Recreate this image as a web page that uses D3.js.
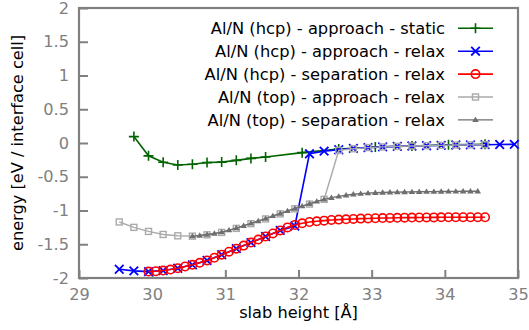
<!DOCTYPE html>
<html><head><meta charset="utf-8">
<script src="https://cdn.jsdelivr.net/npm/d3@7"></script>
<style>body{margin:0;background:#fff}svg{display:block}text{font-family:"DejaVu Sans",sans-serif}</style>
</head><body><svg id="c" width="529" height="330"></svg>
<script>
const xTicks = [29,30,31,32,33,34,35];
const yTicks = [-2,-1.5,-1,-0.5,0,0.5,1,1.5,2];
const yTickLabels = ["-2","-1.5","-1","-0.5","0","0.5","1","1.5","2"];

const greenX = [29.75,29.95,30.15,30.35,30.55,30.75,30.95,31.15,31.35,31.55,32.05,32.55,33.05,33.55,34.05,34.55];
const greenY = [0.095,-0.19,-0.286,-0.325,-0.315,-0.29,-0.283,-0.257,-0.228,-0.207,-0.143,-0.09,-0.06,-0.045,-0.027,-0.02];

const blueX = [29.55,29.75,29.95,30.15,30.35,30.55,30.75,30.95,31.15,31.35,31.55,31.75,31.95,32.15,32.35,32.55,32.75,32.95,33.15,33.35,33.55,33.75,33.95,34.15,34.35,34.55,34.75,34.95];
const blueY = [-1.87,-1.895,-1.905,-1.89,-1.855,-1.805,-1.74,-1.655,-1.565,-1.475,-1.385,-1.295,-1.23,-0.16,-0.12,-0.10,-0.08,-0.068,-0.058,-0.05,-0.044,-0.04,-0.035,-0.03,-0.028,-0.025,-0.022,-0.02];

const redX = [29.95,30.05,30.15,30.25,30.35,30.45,30.55,30.65,30.75,30.85,30.95,31.05,31.15,31.25,31.35,31.45,31.55,31.65,31.75,31.85,31.95,32.05,32.15,32.25,32.35,32.45,32.55,32.65,32.75,32.85,32.95,33.05,33.15,33.25,33.35,33.45,33.55,33.65,33.75,33.85,33.95,34.05,34.15,34.25,34.35,34.45,34.55];
const redY = [-1.905,-1.9,-1.89,-1.875,-1.855,-1.83,-1.805,-1.775,-1.74,-1.70,-1.655,-1.61,-1.565,-1.52,-1.475,-1.43,-1.385,-1.34,-1.295,-1.25,-1.215,-1.19,-1.17,-1.16,-1.15,-1.14,-1.135,-1.13,-1.125,-1.12,-1.118,-1.115,-1.112,-1.11,-1.108,-1.106,-1.105,-1.104,-1.103,-1.102,-1.101,-1.10,-1.10,-1.10,-1.10,-1.10,-1.10];

const topApprX = [29.55,29.75,29.95,30.15,30.35,30.55,30.75,30.95,31.15,31.35,31.55,31.75,31.95,32.15,32.35,32.55,32.75,32.95,33.15,33.35,33.55,33.75,33.95,34.15,34.35,34.55];
const topApprY = [-1.17,-1.25,-1.31,-1.355,-1.375,-1.38,-1.36,-1.325,-1.265,-1.195,-1.125,-1.05,-0.975,-0.905,-0.835,-0.11,-0.085,-0.068,-0.058,-0.05,-0.044,-0.04,-0.035,-0.03,-0.028,-0.025];

const topSepX = [30.55,30.65,30.75,30.85,30.95,31.05,31.15,31.25,31.35,31.45,31.55,31.65,31.75,31.85,31.95,32.05,32.15,32.25,32.35,32.45,32.55,32.65,32.75,32.85,32.95,33.05,33.15,33.25,33.35,33.45,33.55,33.65,33.75,33.85,33.95,34.05,34.15,34.25,34.35,34.45];
const topSepY = [-1.38,-1.37,-1.355,-1.34,-1.32,-1.29,-1.26,-1.225,-1.19,-1.155,-1.12,-1.08,-1.045,-1.005,-0.97,-0.935,-0.90,-0.865,-0.835,-0.81,-0.79,-0.775,-0.76,-0.75,-0.742,-0.737,-0.733,-0.73,-0.728,-0.726,-0.724,-0.722,-0.72,-0.72,-0.718,-0.717,-0.716,-0.715,-0.715,-0.715];

const seriesNames = ["Al/N (hcp) - approach - static","Al/N (hcp) - approach - relax","Al/N (hcp) - separation - relax","Al/N (top) - approach - relax","Al/N (top) - separation - relax"];

const svg = d3.select("#c");
const L=79,R=518,T=8,B=278;
const x = d3.scaleLinear().domain([29,35]).range([L,R]);
const y = d3.scaleLinear().domain([-2,2]).range([B,T]);
const axisCol="#808080";

// axes
const gx = svg.append("g").attr("transform",`translate(0,${B})`)
  .call(d3.axisBottom(x).tickValues(xTicks).tickSize(-8).tickPadding(10).tickFormat(d3.format("d")));
const gy = svg.append("g").attr("transform",`translate(${L},0)`)
  .call(d3.axisLeft(y).tickValues(yTicks).tickSize(-9).tickPadding(10).tickFormat((d,i)=>yTickLabels[i]));
[gx,gy].forEach(g=>{
  g.select(".domain").remove();
  g.selectAll(".tick line").attr("stroke",axisCol).attr("stroke-width",2);
  g.selectAll(".tick text").attr("fill",axisCol).attr("font-size",16.2).attr("font-family","DejaVu Sans");
});
svg.append("rect").attr("x",L).attr("y",T).attr("width",R-L).attr("height",B-T)
  .attr("fill","none").attr("stroke",axisCol).attr("stroke-width",2.2);

svg.append("text").attr("x",x(32)).attr("y",317.5).attr("text-anchor","middle")
  .attr("font-size",16.2).text("slab height [Å]");
svg.append("text").attr("transform",`translate(23,${y(0)}) rotate(-90)`).attr("text-anchor","middle")
  .attr("font-size",16.2).text("energy [eV / interface cell]");

// markers
function plus(s){return `M${-s},0H${s}M0,${-s}V${s}`;}
function cross(s){return `M${-s},${-s}L${s},${s}M${-s},${s}L${s},${-s}`;}
const series = [
  {name:seriesNames[0],xs:greenX,ys:greenY,col:"#006400",lw:1.6,mk:"plus"},
  {name:seriesNames[1],xs:blueX,ys:blueY,col:"#0000ff",lw:1.6,mk:"cross"},
  {name:seriesNames[2],xs:redX,ys:redY,col:"#ff0000",lw:1.6,mk:"circle"},
  {name:seriesNames[3],xs:topApprX,ys:topApprY,col:"#aaaaaa",lw:1.4,mk:"square"},
  {name:seriesNames[4],xs:topSepX,ys:topSepY,col:"#6e6e6e",lw:1.4,mk:"tri"}
];
function drawMarker(g,mk,col,cx,cy){
  if(mk==="plus") g.append("path").attr("d",plus(5)).attr("transform",`translate(${cx},${cy})`).attr("stroke",col).attr("stroke-width",1.6).attr("fill","none");
  else if(mk==="cross") g.append("path").attr("d",cross(4.3)).attr("transform",`translate(${cx},${cy})`).attr("stroke",col).attr("stroke-width",1.8).attr("fill","none");
  else if(mk==="circle") g.append("circle").attr("cx",cx).attr("cy",cy).attr("r",4.2).attr("stroke",col).attr("stroke-width",1.6).attr("fill","none");
  else if(mk==="square") g.append("rect").attr("x",cx-3).attr("y",cy-3).attr("width",6).attr("height",6).attr("stroke",col).attr("stroke-width",1.4).attr("fill","none");
  else if(mk==="tri") g.append("path").attr("d",`M${cx},${cy-3.2}L${cx+3.3},${cy+2.2}L${cx-3.3},${cy+2.2}Z`).attr("fill",col);
}
const line = d3.line().x(d=>x(d[0])).y(d=>y(d[1]));
series.forEach(s=>{
  const g = svg.append("g");
  const pts = s.xs.map((v,i)=>[v,s.ys[i]]);
  g.append("path").attr("d",line(pts)).attr("fill","none").attr("stroke",s.col).attr("stroke-width",s.lw);
  pts.forEach(p=>drawMarker(g,s.mk,s.col,x(p[0]),y(p[1])));
});

// legend
series.forEach((s,i)=>{
  const ly = 28.3 + i*22.9;
  svg.append("text").attr("x",445).attr("y",ly+5.7).attr("text-anchor","end").attr("font-size",16.3).text(s.name);
  const g = svg.append("g");
  g.append("line").attr("x1",458).attr("x2",493).attr("y1",ly).attr("y2",ly).attr("stroke",s.col).attr("stroke-width",s.lw);
  drawMarker(g,s.mk,s.col,475.5,ly);
});
</script></body></html>
